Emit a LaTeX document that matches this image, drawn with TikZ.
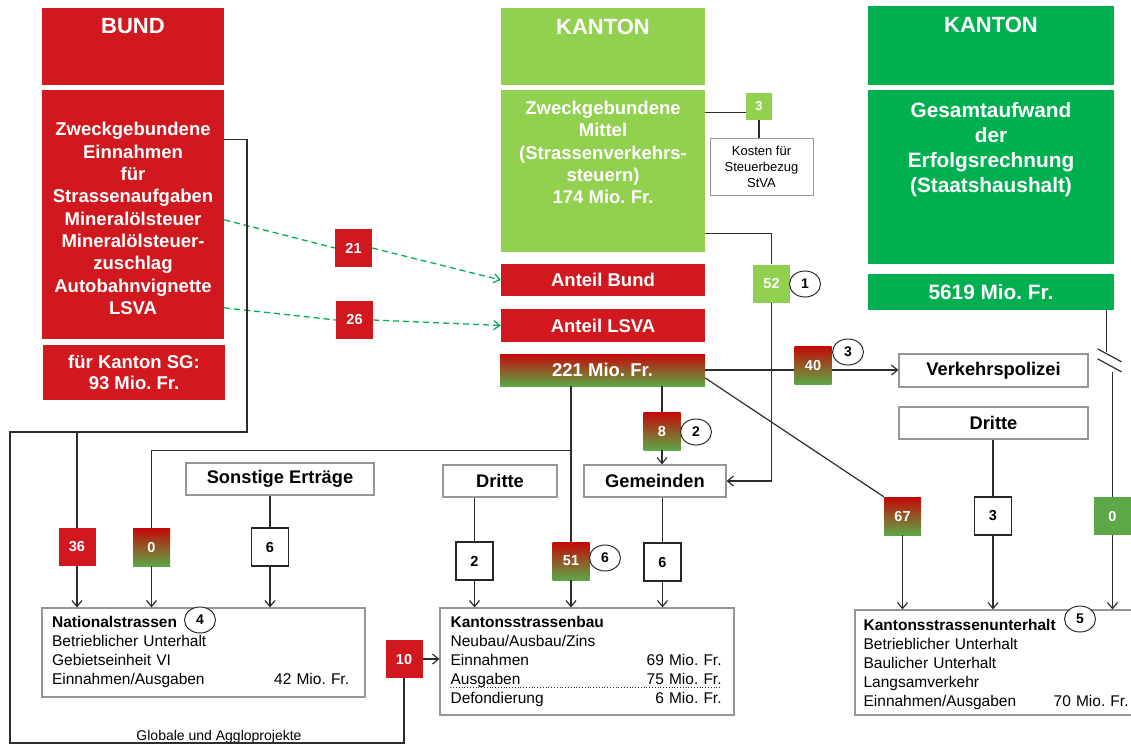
\documentclass[tikz,border=0pt]{standalone}
\usepackage{fontspec}
\setmainfont{Liberation Sans}
\usepackage{xcolor}
\usetikzlibrary{arrows.meta,positioning,shapes.geometric}

\definecolor{bundred}{RGB}{210,24,31}
\definecolor{kantgreen}{RGB}{146,208,80}
\definecolor{staatgreen}{RGB}{0,176,80}
\definecolor{mixred}{RGB}{196,8,8}
\definecolor{mixgreen}{RGB}{92,168,70}
\definecolor{boxgray}{RGB}{150,150,150}
\definecolor{linegray}{RGB}{45,45,45}

\newcommand{\setfs}[2]{\fontsize{#1}{#2}\selectfont}
\frenchspacing

\begin{document}
\begin{tikzpicture}[x=1pt,y=-1pt,
  redbox/.style={rectangle,inner sep=0pt,fill=bundred,text=white,align=center,font=\setfs{18.5}{22.3}\bfseries},
  lgbox/.style={rectangle,inner sep=0pt,fill=kantgreen,text=white,align=center,font=\setfs{18.5}{22.3}\bfseries},
  dgbox/.style={rectangle,inner sep=0pt,fill=staatgreen,text=white,align=center,font=\setfs{20.8}{25.3}\bfseries},
  mixbox/.style={rectangle,inner sep=0pt,top color=mixred,bottom color=mixgreen,text=white,align=center,font=\setfs{18.5}{22.3}\bfseries},
  headtxt/.style={inner sep=0pt,text=white,font=\setfs{22}{26}\bfseries},
  boxtxt/.style={inner sep=0pt,text=white,align=center},
  whitebox/.style={rectangle,inner sep=0pt,draw=boxgray,line width=1.2pt,fill=white,font=\setfs{18.3}{22}\bfseries},
  numbox/.style={rectangle,inner sep=0pt,minimum width=37,minimum height=38,text=white,font=\setfs{14.5}{17}\bfseries},
  numcirc/.style={ellipse,inner sep=0pt,draw=linegray,line width=1pt,fill=white,minimum width=31,minimum height=26,font=\setfs{14}{16}\bfseries},
  body/.style={inner sep=0pt,align=left,font=\setfs{15.5}{19}},
  line/.style={draw=linegray,line width=1.2pt},
  arr/.style={line,-{Straight Barb[length=6pt,width=10pt]}},
  gdash/.style={draw=staatgreen,line width=1.3pt,dash pattern=on 6pt off 4pt}]
\useasboundingbox (0,0) rectangle (1131,745);

% Bund
\node (bundhead) at (133,46.5) [redbox,minimum width=182,minimum height=77] {};
\node (bundtitle) [headtxt,below=10pt of bundhead.north] {BUND};
\node (bundmain) at (133,214.5) [redbox,minimum width=182,minimum height=249] {};
\node (bundmaintxt) at ([yshift=-4pt]bundmain.center) [boxtxt,font=\setfs{18.5}{22.3}\bfseries]
  {Zweckgebundene\\Einnahmen\\für\\Strassenaufgaben\\Mineralölsteuer\\Mineralölsteuer-\\zuschlag\\Autobahnvignette\\LSVA};
\node (bundsg) at (134,372.5) [redbox,minimum width=182,minimum height=55,font=\setfs{18.5}{21.7}\bfseries] {für Kanton SG:\\93 Mio. Fr.};

% Kanton
\node (kanthead) at (603,46.5) [lgbox,minimum width=204,minimum height=77] {};
\node (kanttitle) [headtxt,below=11pt of kanthead.north] {KANTON};
\node (kantmain) at (603,171) [lgbox,minimum width=204,minimum height=162] {};
\node (kantmaintxt) [boxtxt,font=\setfs{18.5}{22.3}\bfseries,below=11pt of kantmain.north]
  {Zweckgebundene\\Mittel\\(Strassenverkehrs-\\steuern)\\174 Mio. Fr.};
\node (anbund) at (603,280) [redbox,minimum width=204,minimum height=32] {Anteil Bund};
\node (anlsva) at (603,325.5) [redbox,minimum width=204,minimum height=33] {Anteil LSVA};
\node (total) at (602.5,370) [mixbox,minimum width=205,minimum height=32] {221 Mio. Fr.};

% Staatshaushalt
\node (gesthead) at (991,45.5) [dgbox,minimum width=246,minimum height=79] {};
\node (gesttitle) [headtxt,below=11pt of gesthead.north] {KANTON};
\node (gestmain) at (991,177) [dgbox,minimum width=246,minimum height=174] {};
\node (gestmaintxt) [boxtxt,font=\setfs{20.8}{25.3}\bfseries,below=12pt of gestmain.north]
  {Gesamtaufwand\\der\\Erfolgsrechnung\\(Staatshaushalt)};
\node (gestotal) at (991,292) [dgbox,minimum width=246,minimum height=36] {5619 Mio. Fr.};

\node (steuer) at (759,106.5) [lgbox,minimum width=26,minimum height=27,font=\setfs{13}{15}\bfseries] {3};
\node (kosten) at (761.5,166.5) [rectangle,draw=boxgray,line width=1pt,minimum width=103,minimum height=57,inner sep=0pt,align=center,font=\setfs{13}{16}] {Kosten für\\Steuerbezug\\StVA};

\node (verkpol) at (993.5,370.5) [whitebox,minimum width=189,minimum height=33] {Verkehrspolizei};
\node (dritteR) at (993.5,423) [whitebox,minimum width=189,minimum height=32] {Dritte};
\node (gemeinden) at (655,481) [whitebox,minimum width=142,minimum height=32] {Gemeinden};
\node (dritteM) at (500,481) [whitebox,minimum width=114,minimum height=32] {Dritte};
\node (sonstige) at (280,479) [whitebox,minimum width=188,minimum height=32] {Sonstige Erträge};

% Betraege
\node (n21) at (353.5,248) [numbox,fill=bundred] {21};
\node (n26) at (354.5,320) [numbox,fill=bundred] {26};
\node (n52) at (771.5,283.5) [numbox,fill=kantgreen] {52};
\node (n40) at (813,365) [numbox,top color=mixred,bottom color=mixgreen] {40};
\node (n8) at (662,431) [numbox,top color=mixred,bottom color=mixgreen] {8};
\node (n36) at (77,547) [numbox,fill=bundred] {36};
\node (n0a) at (151.5,547) [numbox,top color=mixred,bottom color=mixgreen] {0};
\node (n6a) at (270,547) [numbox,draw=black!85,line width=1.3pt,fill=white,text=black] {6};
\node (n2) at (474.5,561) [numbox,draw=black!85,line width=1.3pt,fill=white,text=black] {2};
\node (n51) at (571,561) [numbox,top color=mixred,bottom color=mixgreen] {51};
\node (n6b) at (662.5,562) [numbox,draw=black!85,line width=1.3pt,fill=white,text=black] {6};
\node (n67) at (902.5,516) [numbox,top color=mixred,bottom color=mixgreen] {67};
\node (n3) at (993,516) [numbox,draw=black!85,line width=1.3pt,fill=white,text=black] {3};
\node (n0b) at (1112.5,516) [numbox,fill=mixgreen] {0};
\node (n10) at (404,659) [numbox,fill=bundred] {10};

% Strassen
\node (national) at (203.5,652.5) [rectangle,draw=boxgray,line width=1.2pt,minimum width=323,minimum height=89] {};
\node (nationaltxt) [body,text width=297pt,below right=9pt and 10.5pt of national.north west]
  {\textbf{Nationalstrassen}\\Betrieblicher Unterhalt\\Gebietseinheit VI\\Einnahmen/Ausgaben\hfill 42 Mio. Fr.};
\node (kbau) at (587,661.5) [rectangle,draw=boxgray,line width=1.2pt,minimum width=294,minimum height=107] {};
\node (kbautxt) [body,text width=271pt,below right=9pt and 11pt of kbau.north west]
  {\textbf{Kantonsstrassenbau}\\Neubau/Ausbau/Zins\\Einnahmen\hfill 69 Mio. Fr.\\Ausgaben\hfill 75 Mio. Fr.\\Defondierung\hfill 6 Mio. Fr.};
\node (kunter) at (1000,662.5) [rectangle,draw=boxgray,line width=1.2pt,minimum width=290,minimum height=105] {};
\node (kuntertxt) [body,text width=265pt,below right=10pt and 9pt of kunter.north west]
  {\textbf{Kantonsstrassenunterhalt}\\Betrieblicher Unterhalt\\Baulicher Unterhalt\\Langsamverkehr\\Einnahmen/Ausgaben\hfill 70 Mio. Fr.};
\node (globlbl) at (219,737) [inner sep=0pt,font=\setfs{14}{16}] {Globale und Aggloprojekte};

\coordinate (bundturn) at (247,432);
\coordinate (leftturn) at (10,432);
\coordinate (leftfoot) at (10,743);
\coordinate (steuerin) at ([yshift=-6pt]steuer.west);

\draw[gdash] ([yshift=-130pt]bundmain.north east) -- (n21.west);
\draw[gdash,-{Straight Barb[length=6pt,width=9pt]}] (n21.east) -- (anbund.west);
\draw[gdash] ([yshift=-218pt]bundmain.north east) -- (n26.west);
\draw[gdash,-{Straight Barb[length=6pt,width=9pt]}] (n26.east) -- (anlsva.west);
\draw[line] ([yshift=-50pt]bundmain.north east) -| (bundturn) -- (leftturn) -- (leftfoot) -| (n10.south);
\draw[line] (n36.north |- leftturn) -- (n36.north);
\draw[arr] (n36.south) -- (n36.south |- national.north);
\draw[arr] (n10.east) -- (n10.east -| kbau.west);

\draw[line] (kantmain.east |- steuerin) -- (steuerin);
\draw[line] (steuer.south) -- (steuer.south |- kosten.north);
\draw[line] ([yshift=19pt]kantmain.south east) -| (n52.north);
\draw[arr] (n52.south) |- (gemeinden.east);
\draw[line] (total.east) -- (n40.west |- total.east);
\draw[arr] (n40.east |- total.east) -- (verkpol.west |- total.east);
\draw[line] ([yshift=-8pt]total.east) -- (n67.north west);
\draw[line] (n51.north |- total.south) -- (n51.north);
\draw[line] (n51.north |- n8.south) -| (n0a.north);
\draw[line] (n8.north |- total.south) -- (n8.north);
\draw[arr] (n8.south) -- (gemeinden.north -| n8.south);
\draw[line] (gemeinden.south -| n6b.north) -- (n6b.north);
\draw[arr] (n6b.south) -- (n6b.south |- kbau.north);
\draw[line] (dritteM.south -| n2.north) -- (n2.north);
\draw[arr] (n2.south) -- (n2.south |- kbau.north);
\draw[arr] (n51.south) -- (n51.south |- kbau.north);
\draw[line] (sonstige.south -| n6a.north) -- (n6a.north);
\draw[arr] (n6a.south) -- (n6a.south |- national.north);
\draw[arr] (n0a.south) -- (n0a.south |- national.north);

\draw[line] ([xshift=-6pt]n0b.north |- gestotal.south) -- ++(0,42);
\draw[line] (n0b.north) -- ++(0,-125);
\draw[line] ([shift={(-15,-148)}]n0b.north) -- ++(24,13);
\draw[line] ([shift={(-15,-138)}]n0b.north) -- ++(24,13);
\draw[arr] (n0b.south) -- (n0b.south |- kunter.north);
\draw[line] (dritteR.south -| n3.north) -- (n3.north);
\draw[arr] (n3.south) -- (n3.south |- kunter.north);
\draw[arr] (n67.south) -- (n67.south |- kunter.north);

\draw[line,line width=0.8pt,dotted] ([xshift=11pt,yshift=-80pt]kbau.north west) -- ++(271,0);

\node (c1) at (805,284) [numcirc] {1};
\node (c2) at (696,432) [numcirc] {2};
\node (c3) at (848,352) [numcirc] {3};
\node (c4) at (200,620) [numcirc] {4};
\node (c5) at (1080,619) [numcirc] {5};
\node (c6) at (605,558) [numcirc] {6};
\end{tikzpicture}
\end{document}
